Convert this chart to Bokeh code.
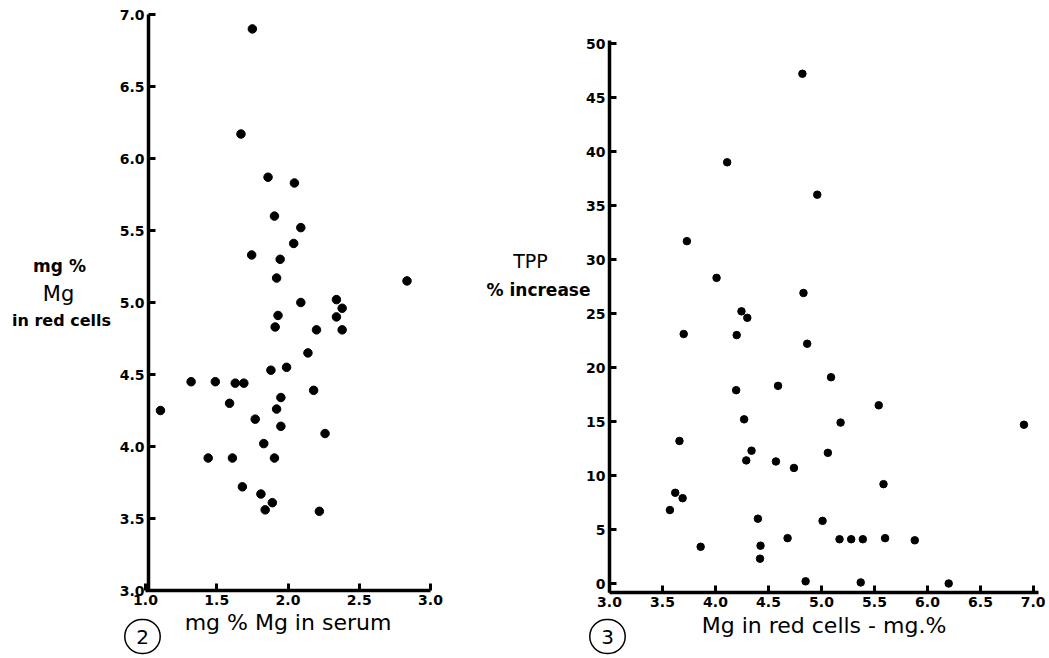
from bokeh.plotting import figure
from bokeh.layouts import row
from bokeh.models import Range1d, Label, FixedTicker, PrintfTickFormatter
from bokeh.embed import file_html
from bokeh.resources import INLINE

# ---- Figure 2: serum Mg vs red-cell Mg ----
serum_mg = [1.75, 1.67, 1.86, 2.045, 1.905, 2.09, 2.04, 1.745, 1.945, 1.92, 2.835, 2.09, 2.34,
            2.38, 1.93, 2.34, 1.91, 2.20, 2.38, 2.14, 1.88, 1.99, 1.32, 1.49, 1.63, 1.69, 2.18,
            1.59, 1.95, 1.105, 1.92, 1.77, 1.95, 2.26, 1.83, 1.44, 1.61, 1.905, 1.68, 1.81,
            1.89, 1.84, 2.22]
red_cell_mg = [6.90, 6.17, 5.87, 5.83, 5.60, 5.52, 5.41, 5.33, 5.30, 5.17, 5.15, 5.00, 5.02,
               4.96, 4.91, 4.90, 4.83, 4.81, 4.81, 4.65, 4.53, 4.55, 4.45, 4.45, 4.44, 4.44, 4.39,
               4.30, 4.34, 4.25, 4.26, 4.19, 4.14, 4.09, 4.02, 3.92, 3.92, 3.92, 3.72, 3.67,
               3.61, 3.56, 3.55]
fig2_xticks = [1.0, 1.5, 2.0, 2.5, 3.0]
fig2_yticks = [3.0, 3.5, 4.0, 4.5, 5.0, 5.5, 6.0, 6.5, 7.0]

# ---- Figure 3: red-cell Mg vs TPP % increase ----
rc_mg = [4.82, 4.11, 4.96, 3.73, 4.01, 4.83, 4.245, 4.30, 3.70, 4.20, 4.865, 5.09, 4.195, 4.59,
         5.54, 4.27, 5.18, 6.91, 3.66, 4.34, 5.06, 4.29, 4.57, 4.74, 5.585, 3.62, 3.69, 3.57,
         4.40, 5.01, 3.86, 4.425, 4.68, 5.17, 5.28, 5.39, 5.60, 5.88, 4.42, 4.85, 5.37, 6.20]
tpp_increase = [47.2, 39.0, 36.0, 31.7, 28.3, 26.9, 25.2, 24.6, 23.1, 23.0, 22.2, 19.1, 17.9, 18.3,
                16.5, 15.2, 14.9, 14.7, 13.2, 12.3, 12.1, 11.4, 11.3, 10.7, 9.2, 8.4, 7.9, 6.8,
                6.0, 5.8, 3.4, 3.5, 4.2, 4.1, 4.1, 4.1, 4.2, 4.0, 2.3, 0.2, 0.1, 0.0]
fig3_xticks = [3.0, 3.5, 4.0, 4.5, 5.0, 5.5, 6.0, 6.5, 7.0]
fig3_yticks = [0, 5, 10, 15, 20, 25, 30, 35, 40, 45, 50]

FONT = "DejaVu Sans"
H = 656


class Mapper:
    """pixel <-> data mapping for a panel whose frame fills the whole canvas"""
    def __init__(self, x0, px0, x1, px1, y0, py0, y1, py1, left, width):
        self.ax = (x1 - x0) / (px1 - px0)
        self.bx = x0 - px0 * self.ax
        self.ay = (y1 - y0) / (py1 - py0)
        self.by = y0 - py0 * self.ay
        self.left = left
        self.width = width

    def x(self, px):
        return self.bx + self.ax * px

    def y(self, py):
        return self.by + self.ay * py

    def xrange(self):
        return Range1d(self.x(self.left), self.x(self.left + self.width))

    def yrange(self):
        return Range1d(self.y(H), self.y(0))


def make_fig(m):
    p = figure(width=m.width, height=H, output_backend="svg", toolbar_location=None,
               x_range=m.xrange(), y_range=m.yrange(), min_border=0)
    p.outline_line_color = None
    p.grid.visible = False
    p.background_fill_color = "white"
    p.border_fill_color = "white"
    for ax in (p.xaxis[0], p.yaxis[0]):
        ax.axis_line_width = 3.5
        ax.axis_line_color = "black"
        ax.major_tick_line_width = 3
        ax.major_tick_line_color = "black"
        ax.major_tick_in = 7
        ax.major_tick_out = 0
        ax.minor_tick_line_color = None
        ax.major_label_text_font = FONT
        ax.major_label_text_font_style = "bold"
        ax.major_label_text_font_size = "14px"
        ax.major_label_text_color = "black"
        ax.major_label_standoff = 4
        ax.axis_label_text_font = FONT
        ax.axis_label_text_font_style = "normal"
        ax.axis_label_text_font_size = "22px"
        ax.axis_label_text_color = "black"
    return p


def add_label(p, x, y, text, size="16px", style="bold", **kw):
    p.add_layout(Label(x=x, y=y, text=text, text_font=FONT, text_font_size=size,
                       text_font_style=style, text_align="center", text_baseline="middle",
                       text_color="black", **kw))


NB = "\u00a0"
CIRCLE = dict(border_line_color="black", border_line_width=1.5, border_radius=18, padding=5)

# Figure 2 (canvas 0..470 px)
m2 = Mapper(1.0, 145, 3.0, 430, 3.0, 590, 7.0, 14, left=0, width=470)
p2 = make_fig(m2)
p2.xaxis.ticker = FixedTicker(ticks=fig2_xticks)
p2.yaxis.ticker = FixedTicker(ticks=fig2_yticks)
p2.xaxis.formatter = PrintfTickFormatter(format="%.1f")
p2.yaxis.formatter = PrintfTickFormatter(format="%.1f")
p2.xaxis.fixed_location = 3.0
p2.yaxis.fixed_location = m2.x(148)
p2.xaxis.bounds = (1.0, 3.0)
p2.yaxis.bounds = (3.0, 7.0)
p2.xaxis.axis_label = "mg % Mg in serum"
p2.xaxis.axis_label_standoff = 2
p2.scatter(serum_mg, red_cell_mg, size=8.5, color="black")
add_label(p2, m2.x(59), m2.y(265), "mg %", size="17px")
add_label(p2, m2.x(58), m2.y(293), "Mg", size="21px", style="normal")
add_label(p2, m2.x(61), m2.y(320), "in red cells", size="16px")
add_label(p2, m2.x(142), m2.y(636), NB + "2" + NB, size="20px", style="normal", **CIRCLE)

# Figure 3 (canvas 470..1045 px, local coordinates)
OFF = 470
m3 = Mapper(3.0, 609 - OFF, 7.0, 1033 - OFF, 0.0, 583, 50.0, 43, left=0, width=575)
p3 = make_fig(m3)
p3.xaxis.ticker = FixedTicker(ticks=fig3_xticks)
p3.yaxis.ticker = FixedTicker(ticks=fig3_yticks)
p3.xaxis.formatter = PrintfTickFormatter(format="%.1f")
p3.xaxis.fixed_location = m3.y(592)
p3.yaxis.fixed_location = 3.0
p3.xaxis.bounds = (3.0, 7.05)
p3.yaxis.bounds = (m3.y(592), 50.3)
p3.xaxis.axis_label = "Mg in red cells - mg.%"
p3.xaxis.axis_label_standoff = 3
p3.scatter(rc_mg, tpp_increase, size=7.5, color="black")
add_label(p3, m3.x(530 - OFF), m3.y(260), "TPP", size="19px", style="normal")
add_label(p3, m3.x(538 - OFF), m3.y(289), "% increase", size="17px")
add_label(p3, m3.x(607 - OFF), m3.y(636), NB + "3" + NB, size="20px", style="normal", **CIRCLE)

layout = row(p2, p3)
open("out.html", "w").write(file_html(layout, INLINE))
